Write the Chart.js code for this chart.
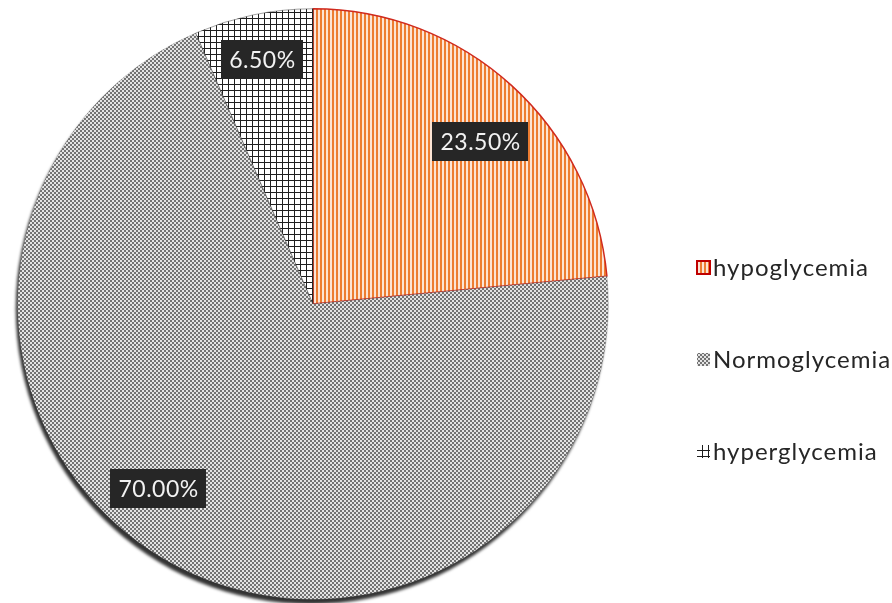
<!DOCTYPE html>
<html>
<head>
<meta charset="utf-8">
<script src="https://cdn.jsdelivr.net/npm/chart.js@4/dist/chart.umd.min.js"></script>
<style>
  html, body { margin: 0; padding: 0; background: #fff; }
  #wrap { width: 892px; height: 603px; position: relative; }
</style>
</head>
<body>
<div id="wrap"><canvas id="pie"></canvas></div>
<script>
// glycemia status split (%)
const categories = ['hypoglycemia', 'Normoglycemia', 'hyperglycemia'];
const shares = [23.5, 70.0, 6.5];
const shareLabels = ['23.50%', '70.00%', '6.50%'];

// where the value boxes sit inside each slice: [fraction along arc, fraction of radius]
const labelSpots = [[0.543, 0.79], [0.537, 0.815], [0.5, 0.845]];

function makePattern(kind) {
  const c = document.createElement('canvas');
  const g = c.getContext('2d');
  if (kind === 'stripes') {
    c.width = 4; c.height = 4;
    g.fillStyle = '#fce4d4'; g.fillRect(0, 0, 4, 4);
    g.fillStyle = '#ed7d31'; g.fillRect(0, 0, 2, 4);
  } else if (kind === 'checker') {
    c.width = 4; c.height = 4;
    g.fillStyle = '#737373'; g.fillRect(0, 0, 4, 4);
    g.fillStyle = '#e4e4e4';
    g.fillRect(0, 0, 2, 2); g.fillRect(2, 2, 2, 2);
  } else {
    c.width = 6; c.height = 6;
    g.fillStyle = '#ffffff'; g.fillRect(0, 0, 6, 6);
    g.fillStyle = '#1e1e1e';
    g.fillRect(0, 0, 1, 6); g.fillRect(0, 0, 6, 1);
  }
  return g.createPattern(c, 'repeat');
}

const ctx0 = document.getElementById('pie').getContext('2d');
const fills = [makePattern('stripes'), makePattern('checker'), makePattern('grid')];
const edges = ['#d02a1e', 'rgba(90,90,90,0.5)', '#444'];

// dark edge under the pie, lower-left like the original
const pieShadow = {
  id: 'pieShadow',
  beforeDatasetsDraw(chart) {
    const arc = chart.getDatasetMeta(0).data[0];
    if (!arc) return;
    const c = chart.ctx;
    c.save();
    c.beginPath();
    c.arc(arc.x - 2, arc.y + 5, arc.outerRadius, 0, Math.PI * 2);
    c.fillStyle = '#333';
    c.filter = 'blur(1.5px)';
    c.fill();
    c.restore();
  }
};

const valueBoxes = {
  id: 'valueBoxes',
  afterDatasetsDraw(chart) {
    const c = chart.ctx;
    const meta = chart.getDatasetMeta(0);
    c.save();
    c.font = '23px Lato, "Open Sans", sans-serif';
    c.letterSpacing = '0.5px';
    c.textAlign = 'center';
    c.textBaseline = 'middle';
    meta.data.forEach((arc, i) => {
      const [af, rf] = labelSpots[i];
      const a = arc.startAngle + (arc.endAngle - arc.startAngle) * af;
      const x = arc.x + Math.cos(a) * arc.outerRadius * rf;
      const y = arc.y + Math.sin(a) * arc.outerRadius * rf;
      const w = c.measureText(shareLabels[i]).width + 16;
      const h = 39;
      c.fillStyle = '#262626';
      c.fillRect(Math.round(x - w / 2), Math.round(y - h / 2), Math.round(w), h);
      c.fillStyle = '#f2f2f2';
      c.fillText(shareLabels[i], x, y + 1);
    });
    c.restore();
  }
};

const sideLegend = {
  id: 'sideLegend',
  afterDraw(chart) {
    const c = chart.ctx;
    const x0 = 697, y0 = 268, step = 92;
    c.save();
    c.font = '24px Lato, "Open Sans", sans-serif';
    c.letterSpacing = '1px';
    c.textBaseline = 'middle';
    categories.forEach((name, i) => {
      const y = y0 + i * step;
      c.fillStyle = fills[i];
      c.fillRect(x0, y - 7, 13, 13);
      if (i === 0) {
        c.strokeStyle = '#c00000';
        c.lineWidth = 2;
        c.strokeRect(x0, y - 7, 13, 13);
      }
      c.fillStyle = '#262626';
      c.fillText(name, x0 + 16, y);
    });
    c.restore();
  }
};

new Chart(ctx0, {
  type: 'pie',
  data: {
    labels: categories,
    datasets: [{
      data: shares,
      backgroundColor: fills,
      borderColor: edges,
      borderWidth: [1.5, 0.5, 0.5],
      hoverOffset: 0
    }]
  },
  options: {
    responsive: true,
    maintainAspectRatio: false,
    animation: false,
    devicePixelRatio: 1,
    layout: { padding: { left: 16, right: 282, top: 8, bottom: 3 } },
    plugins: {
      legend: { display: false },
      tooltip: { enabled: false }
    }
  },
  plugins: [pieShadow, valueBoxes, sideLegend]
});
</script>
</body>
</html>
